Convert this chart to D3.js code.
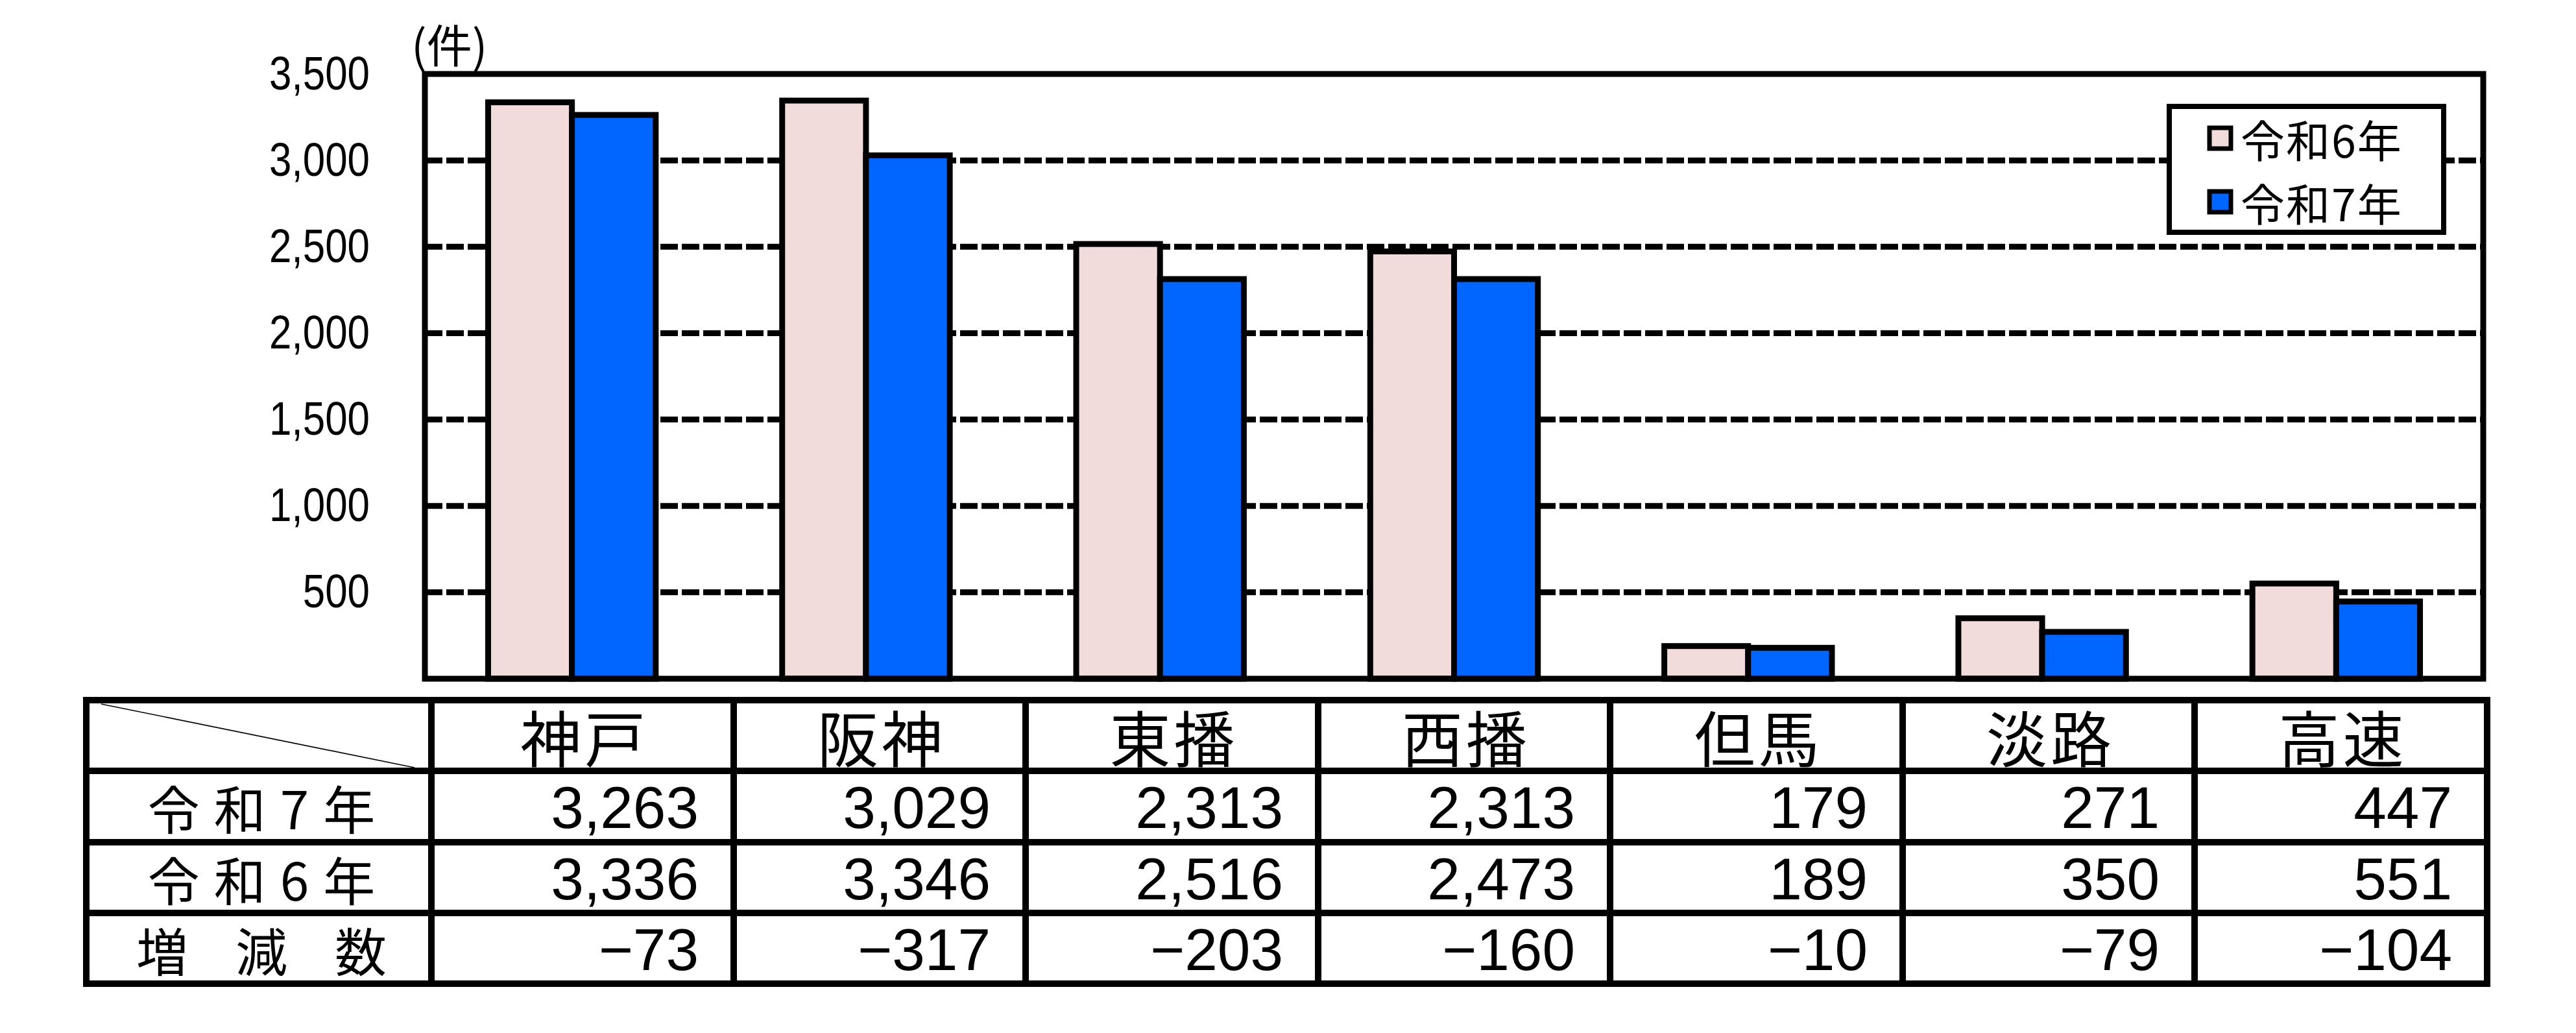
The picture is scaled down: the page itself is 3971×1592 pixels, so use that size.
<!DOCTYPE html>
<html lang="ja">
<head>
<meta charset="utf-8">
<script src="https://cdn.jsdelivr.net/npm/d3@7"></script>
<style>
    body { margin: 0; background: #fff; }
    #chart-area { width: 3971px; height: 1592px; }
    .jp { font-family: "Noto Sans CJK JP", sans-serif; }
    .num { font-family: "Liberation Sans", Arial, sans-serif; }
    .tick-label { font-family: "Liberation Sans", Arial, sans-serif; }
</style>
</head>
<body>
<div id="chart-area"></div>
<script>
// data
let areas = ["神戸", "阪神", "東播", "西播", "但馬", "淡路", "高速"];
let r7 = [3263, 3029, 2313, 2313, 179, 271, 447];
let r6 = [3336, 3346, 2516, 2473, 189, 350, 551];
let diffs = [-73, -317, -203, -160, -10, -79, -104];
let seriesNames = ["令和6年", "令和7年"];
let seriesColors = ["#F2DCDB", "#0066FF"];
let yTicks = [500, 1000, 1500, 2000, 2500, 3000, 3500];
let rowLabels = ["令和7年", "令和6年", "増減数"];

class BarTable {
    constructor(parentElement){
        this.parentElement = parentElement;
        this.render();
    }
    render(){
        let vis = this;

        vis.width = 3971;
        vis.height = 1592;
        vis.plot = {left: 655, right: 3828, top: 114, bottom: 1046};

        vis.svg = d3.select("#" + vis.parentElement).append("svg")
            .attr("width", vis.width)
            .attr("height", vis.height)
            .style("display", "block");

        vis.svg.append("rect")
            .attr("width", vis.width)
            .attr("height", vis.height)
            .attr("fill", "#fff");

        //define scales
        vis.xScale = d3.scaleBand()
            .domain(areas)
            .range([vis.plot.left, vis.plot.right]);

        let barW = vis.xScale.bandwidth() * 0.285;
        vis.seriesScale = d3.scaleBand()
            .domain(seriesNames)
            .range([-barW, barW]);

        vis.yScale = d3.scaleLinear()
            .domain([0, 3500])
            .range([vis.plot.bottom, vis.plot.top]);

        // dashed gridlines
        vis.svg.append("g")
            .selectAll("line")
            .data(yTicks.filter(d => d < 3500))
            .enter().append("line")
            .attr("x1", vis.plot.left)
            .attr("x2", vis.plot.right)
            .attr("y1", d => vis.yScale(d))
            .attr("y2", d => vis.yScale(d))
            .attr("stroke", "#000")
            .attr("stroke-width", 9)
            .attr("stroke-dasharray", "27,6");

        // y axis labels (narrow digits)
        let yAxis = d3.axisLeft(vis.yScale)
            .tickValues(yTicks)
            .tickSize(0)
            .tickPadding(0)
            .tickFormat(d3.format(","));

        let yAxisG = vis.svg.append("g")
            .attr("transform", "translate(570,0)")
            .call(yAxis);
        yAxisG.select(".domain").remove();
        yAxisG.selectAll(".tick text")
            .attr("class", "tick-label")
            .attr("font-size", 72)
            .attr("fill", "#000")
            .attr("transform", "scale(0.86,1)");

        vis.svg.append("text")
            .attr("class", "jp")
            .attr("x", 634)
            .attr("y", 66)
            .attr("dominant-baseline", "central")
            .attr("font-size", 70)
            .text("(件)");

        // bars
        let series = [r6, r7];
        series.forEach((values, si) => {
            vis.svg.append("g")
                .selectAll("rect")
                .data(values)
                .enter().append("rect")
                .attr("x", (d, i) => vis.xScale(areas[i]) + vis.xScale.bandwidth() / 2 + vis.seriesScale(seriesNames[si]))
                .attr("y", d => vis.yScale(d))
                .attr("width", vis.seriesScale.bandwidth())
                .attr("height", d => vis.yScale(0) - vis.yScale(d))
                .attr("fill", seriesColors[si])
                .attr("stroke", "#000")
                .attr("stroke-width", 9);
        });

        // plot frame
        vis.svg.append("rect")
            .attr("x", vis.plot.left)
            .attr("y", vis.plot.top)
            .attr("width", vis.plot.right - vis.plot.left)
            .attr("height", vis.plot.bottom - vis.plot.top)
            .attr("fill", "none")
            .attr("stroke", "#000")
            .attr("stroke-width", 9);

        // legend
        let legend = vis.svg.append("g");
        legend.append("rect")
            .attr("x", 3344)
            .attr("y", 164)
            .attr("width", 423)
            .attr("height", 194)
            .attr("fill", "#fff")
            .attr("stroke", "#000")
            .attr("stroke-width", 8);

        let legendItems = legend.selectAll(".legend-item")
            .data(seriesNames)
            .enter().append("g")
            .attr("class", "legend-item")
            .attr("transform", (d, i) => `translate(3406, ${213 + i * 98})`);

        legendItems.append("rect")
            .attr("x", 0)
            .attr("y", -16)
            .attr("width", 33)
            .attr("height", 32)
            .attr("fill", (d, i) => seriesColors[i])
            .attr("stroke", "#000")
            .attr("stroke-width", 7);

        legendItems.append("text")
            .attr("class", "jp")
            .attr("x", 48)
            .attr("y", 0)
            .attr("dominant-baseline", "central")
            .attr("font-size", 68)
            .attr("letter-spacing", 2)
            .text(d => d);

        vis.renderTable();
    }
    renderTable(){
        let vis = this;

        let colEdges = [133, 665, 1131, 1581, 2032, 2482, 2933, 3383, 3834];
        let rowEdges = [1079, 1188, 1298, 1407, 1516];
        let table = vis.svg.append("g");

        table.append("line")
            .attr("x1", 156).attr("y1", rowEdges[0] + 6)
            .attr("x2", colEdges[1] - 26).attr("y2", rowEdges[1] - 5)
            .attr("stroke", "#000")
            .attr("stroke-width", 1.6);

        table.selectAll(".hline")
            .data(rowEdges)
            .enter().append("line")
            .attr("class", "hline")
            .attr("x1", colEdges[0] - 5)
            .attr("x2", colEdges[colEdges.length - 1] + 5)
            .attr("y1", d => d)
            .attr("y2", d => d)
            .attr("stroke", "#000")
            .attr("stroke-width", 10);

        table.selectAll(".vline")
            .data(colEdges)
            .enter().append("line")
            .attr("class", "vline")
            .attr("x1", d => d)
            .attr("x2", d => d)
            .attr("y1", rowEdges[0])
            .attr("y2", rowEdges[rowEdges.length - 1])
            .attr("stroke", "#000")
            .attr("stroke-width", 10);

        let rowMid = i => (rowEdges[i] + rowEdges[i + 1]) / 2;

        // header row
        table.selectAll(".col-head")
            .data(areas)
            .enter().append("text")
            .attr("class", "jp")
            .attr("x", (d, i) => (colEdges[i + 1] + colEdges[i + 2]) / 2 + 3)
            .attr("y", rowMid(0))
            .attr("dominant-baseline", "central")
            .attr("text-anchor", "middle")
            .attr("font-size", 94)
            .attr("letter-spacing", 5)
            .text(d => d);

        // row labels, the last one is spread wide
        let spacing = [22, 22, 73];
        table.selectAll(".row-head")
            .data(rowLabels)
            .enter().append("text")
            .attr("class", "jp")
            .attr("x", (d, i) => (colEdges[0] + colEdges[1]) / 2 + 4 + spacing[i] / 2)
            .attr("y", (d, i) => rowMid(i + 1))
            .attr("dominant-baseline", "central")
            .attr("text-anchor", "middle")
            .attr("font-size", 80)
            .attr("letter-spacing", (d, i) => spacing[i])
            .text(d => d);

        let fmt = d3.format(",");
        let rows = [r7, r6, diffs];
        rows.forEach((values, ri) => {
            table.append("g")
                .selectAll("text")
                .data(values)
                .enter().append("text")
                .attr("class", "num")
                .attr("x", (d, i) => colEdges[i + 2] - 54)
                .attr("y", rowMid(ri + 1) + 33)
                .attr("text-anchor", "end")
                .attr("font-size", 91)
                .text(d => d < 0 ? "\u2212" + fmt(-d) : fmt(d));
        });
    }
}

new BarTable("chart-area");
</script>
</body>
</html>
